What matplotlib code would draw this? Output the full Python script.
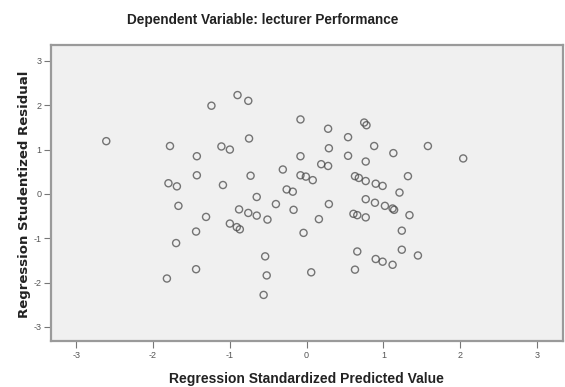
import matplotlib
matplotlib.use("Agg")
import matplotlib.pyplot as plt

plt.rcParams["axes.unicode_minus"] = False

TITLE = "Dependent Variable: lecturer Performance"
X_LABEL = "Regression Standardized Predicted Value"
Y_LABEL = "Regression Studentized Residual"
TICKS = [-3, -2, -1, 0, 1, 2, 3]

# standardized predicted value
PRED = [
    -2.61, -1.78, -1.80, -1.69, -1.67, -1.70, -1.82, -1.43, -1.43, -1.44,
    -1.44, -1.24, -1.31, -1.11, -1.00, -1.09, -0.90, -0.76, -0.75, -0.73,
    -0.88, -0.76, -0.65, -1.00, -0.91, -0.87, -0.65, -0.51, -0.54, -0.52,
    -0.56, -0.40, -0.31, -0.26, -0.18, -0.17, -0.08, -0.08, -0.08, -0.01,
    0.08, -0.04, 0.06, 0.16, 0.19, 0.28, 0.28, 0.29, 0.29, 0.54,
    0.54, 0.75, 0.78, 0.77, 0.63, 0.68, 0.77, 0.77, 0.89, 1.02,
    1.12, 1.14, 0.61, 0.66, 0.77, 0.66, 0.63, 0.88, 1.13, 0.90,
    0.99, 1.21, 1.32, 1.34, 1.24, 1.24, 0.90, 0.99, 1.12, 1.45,
    1.58, 2.04,
]
# studentized residual, same order
RESID = [
    1.19, 1.08, 0.24, 0.17, -0.27, -1.11, -1.91, 0.85, 0.42, -0.85,
    -1.70, 1.99, -0.52, 1.07, 1.00, 0.20, 2.23, 2.10, 1.25, 0.41,
    -0.35, -0.43, -0.49, -0.67, -0.75, -0.80, -0.07, -0.58, -1.41, -1.84,
    -2.28, -0.23, 0.55, 0.10, 0.05, -0.36, 1.68, 0.85, 0.42, 0.39,
    0.31, -0.88, -1.77, -0.57, 0.67, 0.63, 1.47, 1.03, -0.23, 1.28,
    0.86, 1.61, 1.55, 0.73, 0.40, 0.36, 0.29, -0.12, -0.20, -0.27,
    -0.33, -0.36, -0.45, -0.48, -0.53, -1.30, -1.71, 1.08, 0.92, 0.23,
    0.18, 0.03, 0.40, -0.48, -0.83, -1.26, -1.47, -1.53, -1.60, -1.39,
    1.08, 0.80,
]

FONT = "Liberation Sans"
INK = "#222222"
FRAME = "#9A9A9A"
PANEL = "#F0F0F0"
W, H = 565, 387

fig = plt.figure(figsize=(W / 100, H / 100), dpi=100, facecolor="white")
ax = fig.add_axes([51 / W, 1 - 341 / H, 512 / W, 296 / H])
ax.set_facecolor(PANEL)

ax.scatter(PRED, RESID, s=26, facecolors="none", edgecolors="#4a4a4a",
           linewidths=1.0, alpha=0.75, zorder=3)

ax.set_xlim(-3.33, 3.34)
ax.set_ylim(-3.32, 3.36)
ax.set_xticks(TICKS)
ax.set_yticks(TICKS)
ax.tick_params(axis="both", direction="out", length=5, width=0.8,
               color="#777777", labelsize=6.5, labelcolor="#555555", pad=2)
for lab in ax.get_xticklabels() + ax.get_yticklabels():
    lab.set_family(FONT)

for spine in ax.spines.values():
    spine.set_color(FRAME)
    spine.set_linewidth(1.6)

# labels placed in figure pixels to match the source layout
fig.text(306 / W, 1 - 379 / H, X_LABEL, family=FONT, weight="bold",
         fontsize=10, color=INK, ha="center", va="center")
# the source is stretched vertically, so a wider face keeps the y label thin
fig.text(25 / W, 1 - 194.5 / H, Y_LABEL, family="DejaVu Sans", weight="bold",
         fontsize=9.5, color=INK, ha="center", va="center", rotation=90)
fig.text(263 / W, 1 - 20 / H, TITLE, family=FONT, weight="bold",
         fontsize=9.8, color=INK, ha="center", va="center")

fig.savefig("out.png", dpi=100, facecolor="white")
